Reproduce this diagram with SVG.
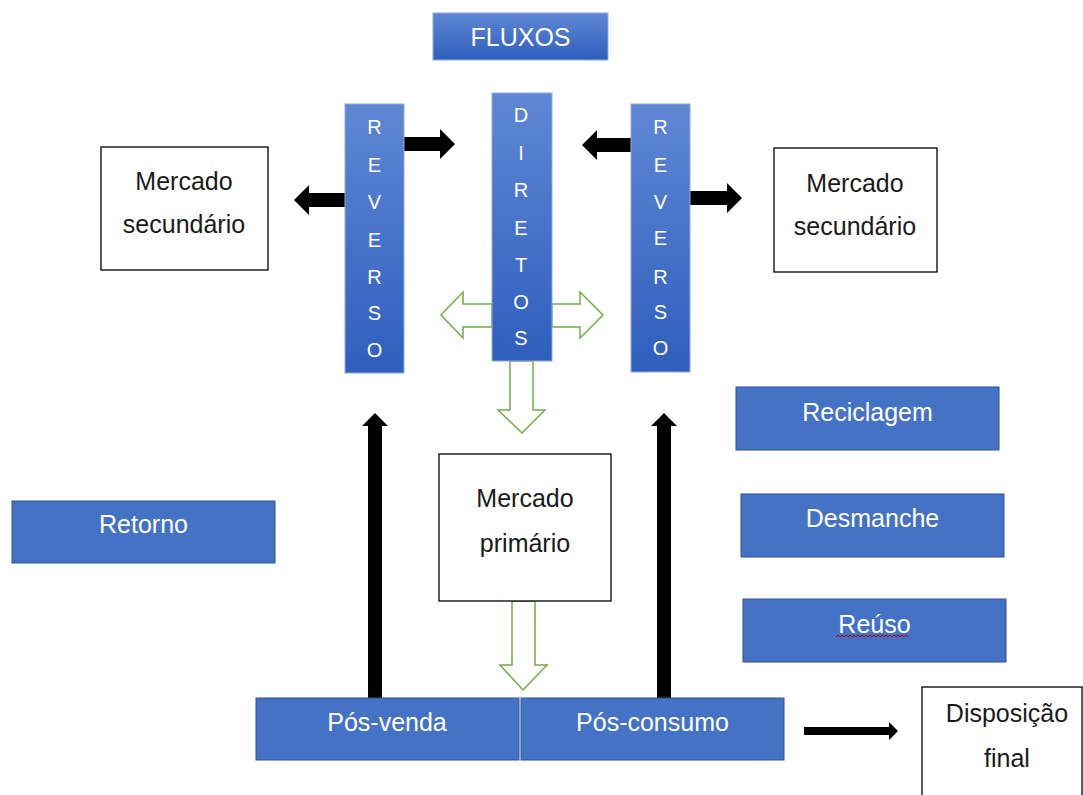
<svg xmlns="http://www.w3.org/2000/svg" width="1083" height="795" viewBox="0 0 1083 795">
<defs>
<linearGradient id="gb" x1="0" y1="0" x2="0" y2="1">
<stop offset="0" stop-color="#5F87D4"/>
<stop offset="1" stop-color="#2F5EBD"/>
</linearGradient>
<style>
.gbox{fill:url(#gb);stroke:#8FAADC;stroke-width:1}
.fbox{fill:#4472C4;stroke:#2F528F;stroke-width:1}
.wbox{fill:#ffffff;stroke:#000000;stroke-width:1.3}
.wt{font-family:"Liberation Sans",Arial,sans-serif;font-size:25px;fill:#ffffff;text-anchor:middle}
.vt{font-family:"Liberation Sans",Arial,sans-serif;font-size:20px;fill:#ffffff;text-anchor:middle}
.bt{font-family:"Liberation Sans",Arial,sans-serif;font-size:25px;fill:#1a1a1a;text-anchor:middle}
.blk{fill:#000000}
.grn{fill:#ffffff;stroke:#70AD47;stroke-width:1.5}
</style>
</defs>
<rect width="1083" height="795" fill="#ffffff"/>

<g id="connectors">
<polygon class="grn" points="492,304 463,304 463,292 441,315 463,338 463,327 492,327"/>
<polygon class="grn" points="552,304 580,304 580,292 603,315 580,338 580,327 552,327"/>
<polygon class="grn" points="510,361 533,361 533,410 545,410 522,433 498,410 510,410"/>
<polygon class="grn" points="512,601 535,601 535,665 547,665 523,690 500,665 512,665"/>
<polygon class="blk" points="404,137 440,137 440,129 455,144 440,159 440,151 404,151"/>
<polygon class="blk" points="345,193 309,193 309,185 294,200 309,215 309,207 345,207"/>
<polygon class="blk" points="631,138 597,138 597,130 582,145 597,160 597,152 631,152"/>
<polygon class="blk" points="690,191 727,191 727,183 742,198 727,213 727,205 690,205"/>
<polygon class="blk" points="368,698 368,426 362,426 375,413 388,426 382,426 382,698"/>
<polygon class="blk" points="657,698 657,426 651,426 664,413 677,426 671,426 671,698"/>
<polygon class="blk" points="804,727 889,727 889,722 898,731 889,740 889,735 804,735"/>
</g>

<g id="fluxos">
<rect class="gbox" x="433" y="13" width="175" height="47"/>
<text class="wt" x="520.5" y="46">FLUXOS</text>
</g>

<g id="reverso-left">
<rect class="gbox" x="345" y="104" width="59" height="269"/>
<text class="vt" x="374.5" y="134">R</text>
<text class="vt" x="374.5" y="172">E</text>
<text class="vt" x="374.5" y="209">V</text>
<text class="vt" x="374.5" y="247">E</text>
<text class="vt" x="374.5" y="284">R</text>
<text class="vt" x="374.5" y="320">S</text>
<text class="vt" x="374.5" y="357">O</text>
</g>

<g id="diretos">
<rect class="gbox" x="492" y="93" width="60" height="268"/>
<text class="vt" x="521" y="122">D</text>
<text class="vt" x="521" y="160">I</text>
<text class="vt" x="521" y="197">R</text>
<text class="vt" x="521" y="235">E</text>
<text class="vt" x="521" y="272">T</text>
<text class="vt" x="521" y="309">O</text>
<text class="vt" x="521" y="345">S</text>
</g>

<g id="reverso-right">
<rect class="gbox" x="631" y="104" width="59" height="268"/>
<text class="vt" x="660.5" y="134">R</text>
<text class="vt" x="660.5" y="172">E</text>
<text class="vt" x="660.5" y="209">V</text>
<text class="vt" x="660.5" y="245">E</text>
<text class="vt" x="660.5" y="284">R</text>
<text class="vt" x="660.5" y="319">S</text>
<text class="vt" x="660.5" y="355">O</text>
</g>

<g id="mercado-secundario-left">
<rect class="wbox" x="101" y="147" width="167" height="123"/>
<text class="bt" x="184" y="190">Mercado</text>
<text class="bt" x="184" y="233">secundário</text>
</g>

<g id="mercado-secundario-right">
<rect class="wbox" x="774" y="148" width="163" height="124"/>
<text class="bt" x="855" y="192">Mercado</text>
<text class="bt" x="855" y="235">secundário</text>
</g>

<g id="mercado-primario">
<rect class="wbox" x="439" y="454" width="172" height="147"/>
<text class="bt" x="525" y="507">Mercado</text>
<text class="bt" x="525" y="552">primário</text>
</g>

<g id="retorno">
<rect class="fbox" x="12" y="501" width="263" height="62"/>
<text class="wt" x="143.5" y="533">Retorno</text>
</g>

<g id="reciclagem">
<rect class="fbox" x="736" y="387" width="263" height="63"/>
<text class="wt" x="867.5" y="421">Reciclagem</text>
</g>

<g id="desmanche">
<rect class="fbox" x="741" y="494" width="263" height="63"/>
<text class="wt" x="872.5" y="527">Desmanche</text>
</g>

<g id="reuso">
<rect class="fbox" x="743" y="599" width="263" height="63"/>
<text class="wt" x="874.5" y="633">Reúso</text>
<path d="M836,637 l2,-2 l2,2 l2,-2 l2,2 l2,-2 l2,2 l2,-2 l2,2 l2,-2 l2,2 l2,-2 l2,2 l2,-2 l2,2 l2,-2 l2,2 l2,-2 l2,2 l2,-2 l2,2 l2,-2 l2,2 l2,-2 l2,2 l2,-2 l2,2 l2,-2 l2,2 l2,-2 l2,2 l2,-2 l2,2 l2,-2 l2,2 l2,-2 l2,2" fill="none" stroke="#C00000" stroke-width="1"/>
</g>

<g id="pos-venda">
<rect class="fbox" x="256" y="698" width="263" height="62"/>
<text class="wt" x="387" y="731">Pós-venda</text>
</g>

<g id="pos-consumo">
<rect class="fbox" x="521" y="698" width="263" height="62"/>
<text class="wt" x="652.5" y="731">Pós-consumo</text>
</g>

<g id="disposicao-final">
<rect class="wbox" x="922" y="687" width="160" height="120"/>
<text class="bt" x="1007" y="722">Disposição</text>
<text class="bt" x="1007" y="767">final</text>
</g>
</svg>
